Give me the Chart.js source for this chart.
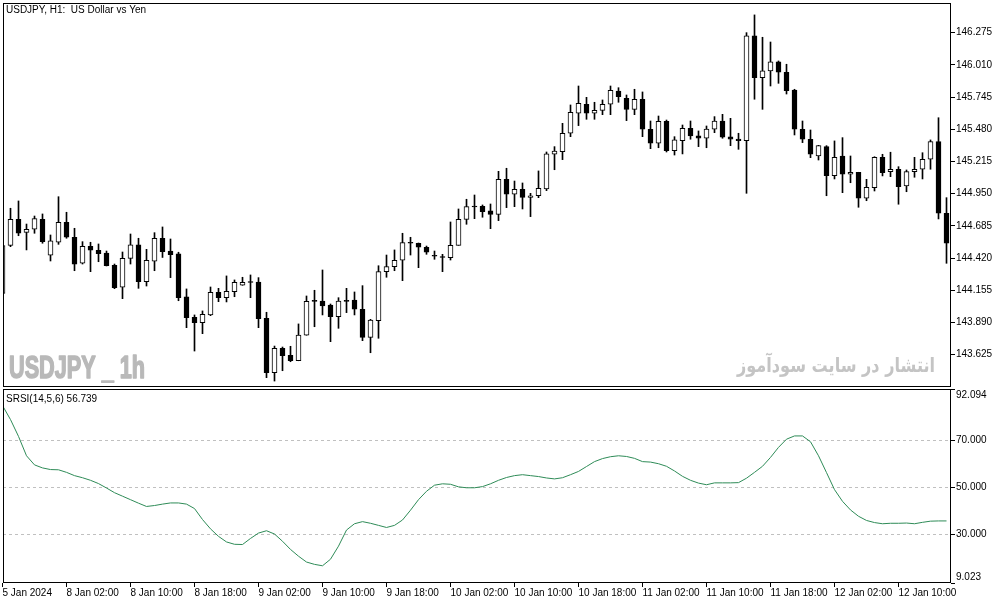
<!DOCTYPE html>
<html>
<head>
<meta charset="utf-8">
<title>USDJPY H1</title>
<script src="https://cdn.jsdelivr.net/npm/chart.js@4.4.1/dist/chart.umd.min.js"></script>
<style>
  body { margin: 0; background: #fff; }
  #wrap { position: relative; width: 1003px; height: 603px; overflow: hidden; }
  canvas { position: absolute; left: 0; }
</style>
</head>
<body>
<div id="wrap">
  <canvas id="priceChart" width="1003" height="388" style="top:0"></canvas>
  <canvas id="srsiChart" width="1003" height="215" style="top:388px"></canvas>
</div>
<script>
// Candles, 5 Jan 18:00 .. 12 Jan 16:00 (H1)
const opens = [
  144.130, 144.525, 144.739, 144.632, 144.657, 144.739, 144.443, 144.550, 144.715, 144.591,
  144.377, 144.517, 144.484, 144.462, 144.361, 144.180, 144.418, 144.528, 144.226, 144.394,
  144.583, 144.478, 144.454, 144.100, 143.933, 143.888, 143.952, 144.138, 144.094, 144.143,
  144.196, 144.221, 144.223, 143.924, 143.477, 143.678, 143.620, 143.575, 143.785, 144.064,
  144.067, 144.034, 143.938, 144.067, 144.075, 143.999, 143.768, 143.905, 144.308, 144.349,
  144.402, 144.548, 144.542, 144.509, 144.437, 144.426, 144.423, 144.525, 144.739, 144.843,
  144.846, 144.808, 144.780, 145.068, 144.945, 144.986, 144.920, 144.933, 144.989, 145.274,
  145.296, 145.447, 145.612, 145.686, 145.612, 145.636, 145.686, 145.795, 145.735, 145.644,
  145.727, 145.480, 145.365, 145.546, 145.304, 145.386, 145.488, 145.425, 145.406, 145.480,
  145.548, 145.417, 145.400, 145.386, 146.248, 145.905, 145.960, 146.034, 145.949, 145.803,
  145.480, 145.398, 145.260, 145.337, 145.098, 145.260, 145.110, 145.126, 144.912, 144.999,
  145.249, 145.131, 145.151, 145.013, 145.131, 145.151, 145.233, 145.378, 144.789
];
const highs = [
  144.522, 144.830, 144.890, 144.700, 144.766, 144.783, 144.610, 144.925, 144.797, 144.665,
  144.555, 144.550, 144.536, 144.478, 144.371, 144.470, 144.618, 144.583, 144.492, 144.629,
  144.676, 144.577, 144.468, 144.166, 143.952, 143.985, 144.182, 144.171, 144.273, 144.240,
  144.262, 144.281, 144.259, 143.974, 143.696, 143.688, 143.694, 143.878, 144.108, 144.155,
  144.322, 144.042, 144.094, 144.171, 144.141, 144.193, 143.916, 144.357, 144.445, 144.487,
  144.624, 144.591, 144.544, 144.519, 144.478, 144.451, 144.717, 144.824, 144.904, 144.939,
  144.857, 144.865, 145.134, 145.159, 145.054, 145.038, 144.953, 145.137, 145.293, 145.337,
  145.529, 145.680, 145.836, 145.743, 145.702, 145.721, 145.836, 145.822, 145.762, 145.809,
  145.787, 145.548, 145.589, 145.556, 145.419, 145.515, 145.548, 145.466, 145.507, 145.584,
  145.603, 145.570, 145.447, 146.275, 146.421, 146.237, 146.198, 146.042, 146.015, 145.809,
  145.548, 145.474, 145.348, 145.345, 145.384, 145.411, 145.260, 145.126, 145.068, 145.254,
  145.274, 145.291, 145.172, 145.145, 145.249, 145.287, 145.392, 145.575, 144.917
];
const lows = [
  144.130, 144.514, 144.604, 144.487, 144.624, 144.542, 144.396, 144.533, 144.583, 144.316,
  144.371, 144.308, 144.390, 144.355, 144.168, 144.086, 144.371, 144.171, 144.190, 144.316,
  144.425, 144.259, 144.069, 143.847, 143.655, 143.798, 143.946, 144.061, 144.059, 144.102,
  144.196, 144.094, 143.847, 143.436, 143.408, 143.493, 143.567, 143.575, 143.785, 143.855,
  143.952, 143.732, 143.842, 143.971, 143.952, 143.740, 143.641, 143.760, 144.262, 144.316,
  144.234, 144.445, 144.341, 144.451, 144.410, 144.308, 144.404, 144.525, 144.698, 144.744,
  144.756, 144.662, 144.728, 144.835, 144.843, 144.824, 144.761, 144.917, 144.975, 145.147,
  145.230, 145.419, 145.510, 145.562, 145.562, 145.600, 145.600, 145.702, 145.551, 145.600,
  145.419, 145.320, 145.328, 145.293, 145.268, 145.277, 145.398, 145.337, 145.328, 145.452,
  145.406, 145.345, 145.315, 144.953, 145.727, 145.644, 145.836, 145.858, 145.770, 145.433,
  145.370, 145.246, 145.227, 144.933, 145.071, 144.958, 145.040, 144.838, 144.892, 144.972,
  145.096, 145.090, 144.863, 144.966, 145.085, 145.071, 145.151, 144.742, 144.377
];
const closes = [
  144.522, 144.739, 144.624, 144.657, 144.744, 144.555, 144.561, 144.715, 144.591, 144.369,
  144.517, 144.484, 144.456, 144.357, 144.176, 144.418, 144.528, 144.226, 144.402, 144.583,
  144.473, 144.448, 144.094, 143.929, 143.888, 143.957, 144.138, 144.094, 144.147, 144.221,
  144.221, 144.219, 143.921, 143.477, 143.678, 143.617, 143.575, 143.787, 144.064, 144.063,
  144.026, 143.938, 144.067, 144.064, 143.999, 143.768, 143.910, 144.308, 144.349, 144.402,
  144.547, 144.542, 144.509, 144.468, 144.435, 144.425, 144.525, 144.739, 144.843, 144.840,
  144.802, 144.780, 145.068, 144.945, 144.986, 144.920, 144.933, 144.994, 145.277, 145.301,
  145.447, 145.620, 145.694, 145.612, 145.636, 145.686, 145.801, 145.748, 145.644, 145.727,
  145.480, 145.365, 145.546, 145.303, 145.392, 145.488, 145.425, 145.406, 145.482, 145.548,
  145.414, 145.398, 145.386, 146.248, 145.905, 145.960, 146.034, 145.949, 145.798, 145.480,
  145.398, 145.274, 145.345, 145.098, 145.249, 145.110, 145.126, 144.912, 145.003, 145.249,
  145.123, 145.151, 145.008, 145.131, 145.151, 145.233, 145.378, 144.789, 144.542
];

// SRSI(14,5,6), one value per candle
const srsiValues = [
  85.0, 79.0, 71.8, 63.5, 59.6, 58.3, 57.6, 57.5, 56.4, 55.0,
  54.1, 53.0, 51.6, 49.7, 47.7, 46.2, 44.7, 43.2, 41.8, 42.2,
  42.8, 43.3, 43.3, 42.8, 40.9, 36.2, 32.2, 29.0, 26.6, 25.6,
  25.5, 28.1, 30.4, 31.4, 30.0, 26.9, 23.4, 20.5, 18.0, 17.0,
  16.4, 19.2, 24.8, 31.7, 34.4, 35.3, 34.6, 33.7, 32.8, 33.7,
  36.0, 40.2, 44.7, 48.3, 50.9, 51.5, 51.3, 50.2, 49.8, 49.8,
  50.3, 51.5, 53.0, 54.2, 55.0, 55.4, 55.0, 54.6, 54.0, 53.6,
  54.1, 55.4, 56.8, 58.9, 61.0, 62.3, 63.1, 63.5, 63.2, 62.4,
  61.0, 60.8, 60.1, 59.0, 57.0, 54.7, 53.0, 51.8, 51.1, 51.9,
  51.9, 51.9, 52.0, 53.9, 56.4, 59.0, 62.8, 67.1, 70.6, 72.0,
  72.0, 69.5, 63.5, 56.3, 49.0, 44.0, 40.3, 37.6, 35.8, 34.9,
  34.4, 34.6, 34.6, 34.7, 34.4, 35.0, 35.5, 35.6, 35.6
];

const priceTicks = [143.625, 143.890, 144.155, 144.420, 144.685, 144.950, 145.215, 145.480, 145.745, 146.010, 146.275];
const srsiTicks = [9.023, 30, 50, 70, 92.094];
const srsiLevels = [30, 50, 70];
const timeTicks = [0, 8, 16, 24, 32, 40, 48, 56, 64, 72, 80, 88, 96, 104, 112];
const timeLabels = [
  "5 Jan 2024", "8 Jan 02:00", "8 Jan 10:00", "8 Jan 18:00", "9 Jan 02:00",
  "9 Jan 10:00", "9 Jan 18:00", "10 Jan 02:00", "10 Jan 10:00", "10 Jan 18:00",
  "11 Jan 02:00", "11 Jan 10:00", "11 Jan 18:00", "12 Jan 02:00", "12 Jan 10:00"
];

Chart.defaults.font.family = '"Liberation Sans", Arial, sans-serif';
Chart.defaults.font.size = 10;
Chart.defaults.color = "#000";
Chart.defaults.animation = false;

const X_MIN = 0.0625;
const X_MAX = 118.5625;
const AXIS_W = 52;

// axis labels must not shrink the plot area
function noPad(s) {
  s.paddingTop = 0;
  s.paddingBottom = 0;
  s.paddingLeft = 0;
  s.paddingRight = 0;
}

// black rectangle round each panel
const framePlugin = {
  id: "frame",
  afterDraw(chart) {
    const { ctx, chartArea: a } = chart;
    ctx.save();
    ctx.strokeStyle = "#000";
    ctx.lineWidth = 1;
    ctx.strokeRect(a.left + 0.5, a.top + 0.5, a.right - a.left - 1, a.bottom - a.top - 1);
    ctx.restore();
  },
};

const priceText = {
  id: "priceText",
  beforeDatasetsDraw(chart) {
    const ctx = chart.ctx;
    ctx.save();
    ctx.textBaseline = "alphabetic";
    ctx.fillStyle = "#b9b9b9";
    ctx.strokeStyle = "#b9b9b9";
    ctx.lineWidth = 1.6;
    ctx.lineJoin = "round";
    ctx.textAlign = "left";
    ctx.font = 'bold 32px "Liberation Sans", Arial, sans-serif';
    ctx.fillText("USDJPY _ 1h", 9, 378, 136);
    ctx.strokeText("USDJPY _ 1h", 9, 378, 136);
    ctx.fillStyle = "#c4c4c4";
    ctx.textAlign = "right";
    ctx.font = 'bold 20px "DejaVu Sans", sans-serif';
    ctx.fillText("انتشار در سایت سودآموز", 935, 372, 198);
    ctx.restore();
  },
  afterDraw(chart) {
    const ctx = chart.ctx;
    ctx.save();
    ctx.fillStyle = "#000";
    ctx.textAlign = "left";
    ctx.textBaseline = "middle";
    ctx.font = '10px "Liberation Sans", Arial, sans-serif';
    ctx.fillText("USDJPY, H1:  US Dollar vs Yen", 6, 10);
    ctx.restore();
  },
};

const srsiText = {
  id: "srsiText",
  afterDraw(chart) {
    const ctx = chart.ctx;
    ctx.save();
    ctx.fillStyle = "#000";
    ctx.textAlign = "left";
    ctx.textBaseline = "middle";
    ctx.font = '10px "Liberation Sans", Arial, sans-serif';
    ctx.fillText("SRSI(14,5,6) 56.739", 6, 11);
    ctx.restore();
  },
};

const idx = opens.map((_, i) => i);

new Chart(document.getElementById("priceChart"), {
  type: "bar",
  data: {
    datasets: [
      {
        label: "body",
        data: idx.map((i) => ({ x: i, y: [opens[i], closes[i]] })),
        backgroundColor: idx.map((i) => (closes[i] >= opens[i] ? "#fff" : "#000")),
        borderColor: "#000",
        borderWidth: 1,
        borderSkipped: false,
        barThickness: 5,
        minBarLength: 1,
        grouped: false,
        order: 1,
      },
      {
        label: "wick",
        data: idx.map((i) => ({ x: i, y: [lows[i], highs[i]] })),
        backgroundColor: "#000",
        borderWidth: 0,
        barThickness: 1,
        grouped: false,
        order: 2,
      },
    ],
  },
  options: {
    responsive: false,
    devicePixelRatio: 1,
    layout: { padding: { left: 3, top: 3, right: 0, bottom: 1 } },
    plugins: { legend: { display: false }, tooltip: { enabled: false } },
    scales: {
      x: {
        type: "linear",
        min: X_MIN,
        max: X_MAX,
        offset: false,
        display: false,
        grid: { display: false, offset: false },
      },
      y: {
        position: "right",
        min: 143.359,
        max: 146.519,
        beginAtZero: false,
        afterBuildTicks: (s) => { s.ticks = priceTicks.map((v) => ({ value: v })); },
        afterFit: (s) => { s.width = AXIS_W; noPad(s); },
        grid: { drawOnChartArea: false, drawTicks: true, tickLength: 4, tickColor: "#000" },
        border: { display: false },
        ticks: { padding: 1, callback: (v) => v.toFixed(3) },
      },
    },
  },
  plugins: [priceText, framePlugin],
});

new Chart(document.getElementById("srsiChart"), {
  type: "line",
  data: {
    datasets: [
      {
        label: "SRSI",
        data: srsiValues.map((v, i) => ({ x: i, y: v })),
        borderColor: "#2e8b57",
        borderWidth: 1,
        pointRadius: 0,
        tension: 0,
        fill: false,
      },
    ],
  },
  options: {
    responsive: false,
    devicePixelRatio: 1,
    layout: { padding: { left: 3, top: 1, right: 0, bottom: 0 } },
    plugins: { legend: { display: false }, tooltip: { enabled: false } },
    scales: {
      x: {
        type: "linear",
        min: X_MIN,
        max: X_MAX,
        offset: false,
        afterBuildTicks: (s) => { s.ticks = timeTicks.map((v) => ({ value: v })); },
        afterFit: (s) => { s.height = 20; noPad(s); },
        grid: { drawOnChartArea: false, drawTicks: true, tickLength: 4, tickColor: "#000" },
        border: { display: false },
        ticks: {
          autoSkip: false,
          maxRotation: 0,
          minRotation: 0,
          align: "start",
          padding: 0,
          callback: (v, i) => timeLabels[i],
        },
      },
      y: {
        position: "right",
        min: 9.023,
        max: 92.094,
        afterBuildTicks: (s) => { s.ticks = srsiTicks.map((v) => ({ value: v })); },
        afterFit: (s) => { s.width = AXIS_W; noPad(s); },
        grid: {
          drawOnChartArea: true,
          drawTicks: true,
          tickLength: 4,
          tickColor: "#000",
          tickBorderDash: [],
          color: (c) => (c.tick && srsiLevels.includes(c.tick.value) ? "#c0c0c0" : "rgba(0,0,0,0)"),
        },
        border: { display: false, dash: [3, 3] },
        ticks: {
          padding: 1,
          callback: (v, i) => {
            const s = v.toFixed(3);
            if (i === 0) return [s, ""];
            if (i === srsiTicks.length - 1) return ["", s];
            return s;
          },
        },
      },
    },
  },
  plugins: [srsiText, framePlugin],
});
</script>
</body>
</html>
